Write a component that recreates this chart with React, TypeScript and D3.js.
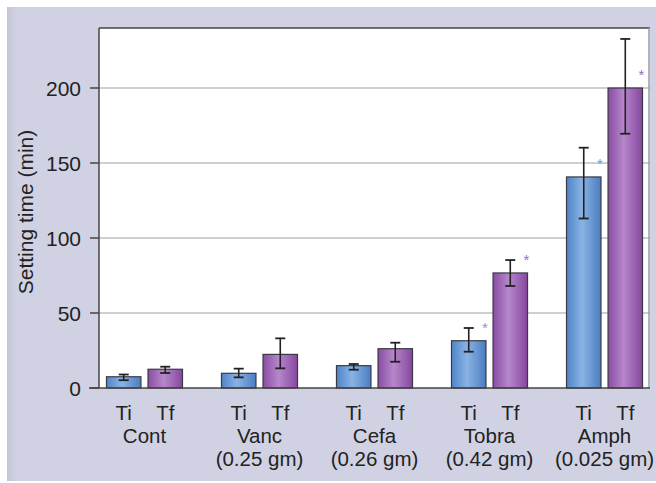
import React from 'react';
import * as d3 from 'd3';

const groups = ['Cont', 'Vanc', 'Cefa', 'Tobra', 'Amph'];
const doses = ['', '(0.25 gm)', '(0.26 gm)', '(0.42 gm)', '(0.025 gm)'];
const seriesNames = ['Ti', 'Tf'];

// bar heights and error bar ends (min)
const tiValues = [7.5, 9.8, 14.9, 31.5, 140.7];
const tiLow = [5.2, 7.1, 12.2, 24.2, 113];
const tiHigh = [9.0, 12.9, 16.0, 40.0, 160.2];
const tfValues = [12.5, 22.4, 26.2, 76.7, 200];
const tfLow = [10.0, 13.1, 17.5, 68.0, 169.5];
const tfHigh = [14.2, 33.1, 30.2, 85.3, 232.7];
const tiStar = [false, false, false, true, true];
const tfStar = [false, false, false, true, true];

const yTicks = [0, 50, 100, 150, 200];

const W = 656;
const H = 483;
const plot = { left: 99, right: 650, top: 28, bottom: 388 };
const font = '"Liberation Sans", Arial, sans-serif';

const series = [
  { name: 'Ti', values: tiValues, low: tiLow, high: tiHigh, star: tiStar, grad: 'gradBlue', starColor: '#6f9fd8' },
  { name: 'Tf', values: tfValues, low: tfLow, high: tfHigh, star: tfStar, grad: 'gradPurple', starColor: '#9a6cb8' },
];

export default function App() {
  const x0 = d3.scaleBand<string>()
    .domain(groups)
    .range([plot.left, plot.right])
    .paddingInner(0.339)
    .paddingOuter(0.065);

  const x1 = d3.scaleBand<string>()
    .domain(seriesNames)
    .range([0, x0.bandwidth()])
    .paddingInner(0.17);

  const y = d3.scaleLinear()
    .domain([0, 240])
    .range([plot.bottom, plot.top]);

  const bw = x1.bandwidth();

  return (
    <svg width={W} height={H} style={{ position: 'absolute', left: 0, top: 0 }} fontFamily={font}>
      <defs>
        <linearGradient id="gradBlue" x1="0" x2="1" y1="0" y2="0">
          <stop offset="0%" stopColor="#4f84c8" />
          <stop offset="45%" stopColor="#8ab3e4" />
          <stop offset="100%" stopColor="#4a7dc2" />
        </linearGradient>
        <linearGradient id="gradPurple" x1="0" x2="1" y1="0" y2="0">
          <stop offset="0%" stopColor="#8a4ca4" />
          <stop offset="45%" stopColor="#b587ca" />
          <stop offset="100%" stopColor="#87479f" />
        </linearGradient>
        <linearGradient id="gradPanel" x1="0" x2="1" y1="0" y2="0">
          <stop offset="0%" stopColor="#c3c5d8" />
          <stop offset="1.5%" stopColor="#d0d2e4" />
          <stop offset="100%" stopColor="#d0d2e4" />
        </linearGradient>
      </defs>

      {/* background panel */}
      <rect x={7} y={7} width={W - 7} height={H - 9} fill="url(#gradPanel)" />

      {/* plot area */}
      <rect x={plot.left} y={plot.top} width={plot.right - plot.left} height={plot.bottom - plot.top} fill="#ffffff" />

      {/* gridlines */}
      {yTicks.filter(t => t > 0).map(t => (
        <line key={'g' + t} x1={plot.left} x2={plot.right} y1={y(t)} y2={y(t)} stroke="#a0a0a8" strokeWidth={1.2} />
      ))}

      {/* borders */}
      <line x1={plot.left} x2={plot.right} y1={plot.top} y2={plot.top} stroke="#444" strokeWidth={1.5} />
      <line x1={plot.right - 1} x2={plot.right - 1} y1={plot.top} y2={plot.bottom} stroke="#9a9aa6" strokeWidth={1.5} />
      <line x1={plot.left} x2={plot.left} y1={plot.top} y2={plot.bottom} stroke="#444" strokeWidth={1.5} />

      {/* y ticks and labels */}
      {yTicks.map(t => (
        <g key={'t' + t}>
          <line x1={plot.left - 9} x2={plot.left} y1={y(t)} y2={y(t)} stroke="#444" strokeWidth={1.5} />
          <text x={81} y={y(t) + 7.5} textAnchor="end" fontSize={21} fill="#222">{t}</text>
        </g>
      ))}

      {/* y title */}
      <text
        transform={`translate(33,${(plot.top + plot.bottom) / 2 + 4}) rotate(-90)`}
        textAnchor="middle"
        fontSize={21}
        fill="#222"
      >
        Setting time (min)
      </text>

      {/* bars */}
      {series.map(s => (
        <g key={s.name}>
          {groups.map((gName, i) => {
            const bx = (x0(gName) as number) + (x1(s.name) as number);
            const cx = bx + bw / 2;
            return (
              <g key={gName}>
                <rect
                  x={bx}
                  y={y(s.values[i])}
                  width={bw}
                  height={y(0) - y(s.values[i])}
                  fill={`url(#${s.grad})`}
                  stroke="#3a3a44"
                  strokeWidth={1.2}
                />
                <line x1={cx} x2={cx} y1={y(s.high[i])} y2={y(s.low[i])} stroke="#222" strokeWidth={1.6} />
                <line x1={cx - 5} x2={cx + 5} y1={y(s.high[i])} y2={y(s.high[i])} stroke="#222" strokeWidth={1.8} />
                <line x1={cx - 5} x2={cx + 5} y1={y(s.low[i])} y2={y(s.low[i])} stroke="#222" strokeWidth={1.8} />
                {s.star[i] && (
                  <text x={bx + bw - 1} y={y(s.values[i]) - 8} textAnchor="middle" fontSize={15} fill={s.starColor}>*</text>
                )}
              </g>
            );
          })}
        </g>
      ))}

      {/* x axis line */}
      <line x1={plot.left - 10} x2={plot.right} y1={plot.bottom} y2={plot.bottom} stroke="#444" strokeWidth={1.5} />

      {/* x labels */}
      {groups.map((gName, i) => {
        const gx = x0(gName) as number;
        return (
          <g key={'l' + gName}>
            {seriesNames.map(sn => (
              <text key={sn} x={gx + (x1(sn) as number) + bw / 2} y={420} textAnchor="middle" fontSize={20.5} fill="#222">{sn}</text>
            ))}
            <text x={gx + x0.bandwidth() / 2} y={443} textAnchor="middle" fontSize={20.5} fill="#222">{gName}</text>
            {doses[i] && (
              <text x={gx + x0.bandwidth() / 2} y={466} textAnchor="middle" fontSize={20.5} fill="#222">{doses[i]}</text>
            )}
          </g>
        );
      })}
    </svg>
  );
}
